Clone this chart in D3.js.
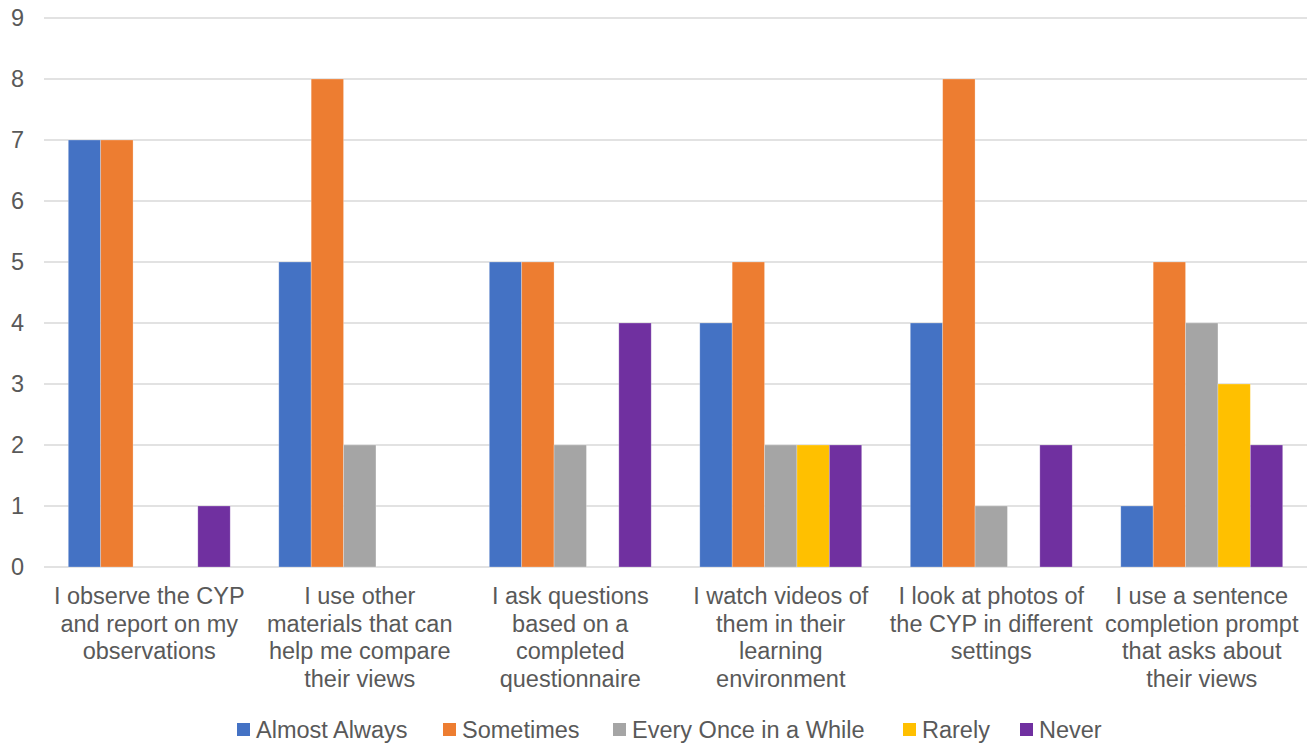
<!DOCTYPE html>
<html>
<head>
<meta charset="utf-8">
<script src="https://cdn.jsdelivr.net/npm/d3@7"></script>
<style>
  html, body { margin: 0; padding: 0; background: #fff; }
  svg { display: block; }
  text { font-family: "Liberation Sans", Arial, sans-serif; fill: #595959; }
</style>
</head>
<body>
<svg id="chart" width="1316" height="745"></svg>
<script>
// Survey responses: how often each approach is used to gather the CYP's views
const categories = [
  "I observe the CYP|and report on my|observations",
  "I use other|materials that can|help me compare|their views",
  "I ask questions|based on a|completed|questionnaire",
  "I watch videos of|them in their|learning|environment",
  "I look at photos of|the CYP in different|settings",
  "I use a sentence|completion prompt|that asks about|their views"
];
const seriesNames = ["Almost Always", "Sometimes", "Every Once in a While", "Rarely", "Never"];
const almostAlways      = [7, 5, 5, 4, 4, 1];
const sometimes         = [7, 8, 5, 5, 8, 5];
const everyOnceInAWhile = [0, 2, 2, 2, 1, 4];
const rarely            = [0, 0, 0, 2, 0, 3];
const never             = [1, 0, 4, 2, 2, 2];
const yTicks = [0, 1, 2, 3, 4, 5, 6, 7, 8, 9];
const colors = ["#4472C4", "#ED7D31", "#A5A5A5", "#FFC000", "#7030A0"];

const seriesValues = [almostAlways, sometimes, everyOnceInAWhile, rarely, never];

const FONT = 23.5;
const svg = d3.select("#chart");
const plot = { left: 44, right: 1307, top: 18, bottom: 567 };

const x0 = d3.scaleBand()
  .domain(d3.range(categories.length))
  .range([plot.left, plot.right])
  .paddingInner(0).paddingOuter(0);

// bars fill the middle of each band, leaving a gap of 1.5 bar widths between groups
const bw = x0.bandwidth();
const barW = bw / (seriesNames.length + 1.5);
const x1 = d3.scaleBand()
  .domain(d3.range(seriesNames.length))
  .range([barW * 0.75, bw - barW * 0.75])
  .padding(0);

const y = d3.scaleLinear().domain([0, 9]).range([plot.bottom, plot.top]);

// gridlines
svg.append("g")
  .selectAll("line")
  .data(yTicks)
  .join("line")
  .attr("x1", plot.left).attr("x2", plot.right)
  .attr("y1", d => y(d)).attr("y2", d => y(d))
  .attr("stroke", "#D9D9D9").attr("stroke-width", 1.5);

// y axis labels
const yAxis = d3.axisLeft(y).tickValues(yTicks).tickSize(0).tickPadding(0);
const gy = svg.append("g").attr("transform", `translate(24,0)`).call(yAxis);
gy.select(".domain").remove();
gy.attr("font-size", FONT).attr("font-family", "Liberation Sans, Arial, sans-serif");
gy.selectAll("text")
  .attr("font-size", FONT)
  .attr("fill", "#595959");

// bars
const groups = svg.append("g")
  .selectAll("g")
  .data(categories.map((c, i) => ({ i, values: seriesValues.map(s => s[i]) })))
  .join("g")
  .attr("transform", d => `translate(${x0(d.i)},0)`);

groups.selectAll("rect")
  .data(d => d.values.map((v, s) => ({ v, s })).filter(d => d.v > 0))
  .join("rect")
  .attr("x", d => x1(d.s))
  .attr("width", x1.bandwidth())
  .attr("y", d => y(d.v))
  .attr("height", d => y(0) - y(d.v))
  .attr("fill", d => colors[d.s])
  .attr("stroke", "#ffffff")
  .attr("stroke-opacity", 0.35)
  .attr("stroke-width", 0.75);

// category labels
const xLabels = svg.append("g")
  .selectAll("text")
  .data(categories)
  .join("text")
  .attr("text-anchor", "middle")
  .attr("font-size", FONT)
  .attr("transform", (d, i) => `translate(${x0(i) + bw / 2},604)`);
xLabels.selectAll("tspan")
  .data(d => d.split("|"))
  .join("tspan")
  .attr("x", 0)
  .attr("y", (d, j) => j * 27.7)
  .text(d => d);

// legend
const legendX = [237, 443, 613, 903, 1020];
const legend = svg.append("g")
  .selectAll("g")
  .data(seriesNames)
  .join("g")
  .attr("transform", (d, i) => `translate(${legendX[i]},723)`);
legend.append("rect")
  .attr("width", 13).attr("height", 13)
  .attr("fill", (d, i) => colors[i]);
legend.append("text")
  .attr("x", 19).attr("y", 14.5)
  .attr("font-size", FONT)
  .text(d => d);
</script>
</body>
</html>
